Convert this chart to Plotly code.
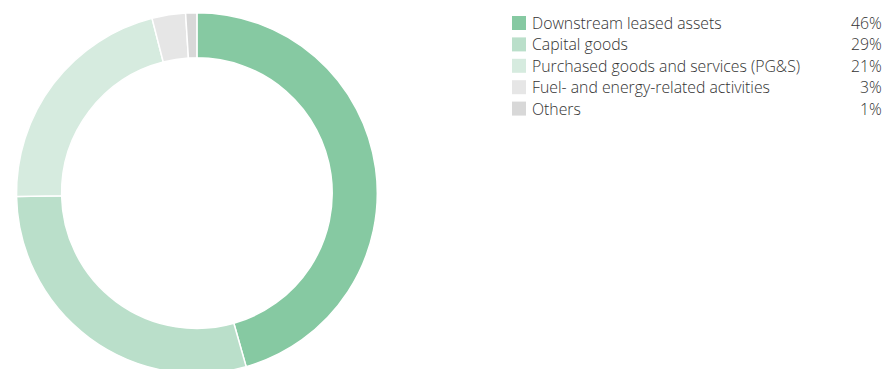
import plotly.graph_objects as go

categories = ["Downstream leased assets", "Capital goods", "Purchased goods and services (PG&S)",
              "Fuel- and energy-related activities", "Others"]
values = [45.6, 29.1, 21.3, 3.0, 1.0]
pct_labels = ["46%", "29%", "21%", "3%", "1%"]
colors = ["#86C9A2", "#BADFCA", "#D6EBDF", "#E6E6E6", "#D8D8D8"]

W, H = 888, 377
FONT = "Open Sans"
TEXT_COLOR = "#333333"

def px_x(x):
    return x / W

def px_y(y):
    return (H - y) / H

fig = go.Figure()
fig.add_trace(go.Pie(
    labels=categories, values=values, sort=False, direction="clockwise", rotation=0,
    hole=0.75, textinfo="none", showlegend=False,
    marker=dict(colors=colors, line=dict(color="white", width=1.5)),
    domain=dict(x=[px_x(16.5), px_x(377.3)], y=[px_y(373.5), px_y(12.7)]),
))

shapes = []
annotations = []
row0, step = 23.0, 21.4
for i, (cat, pct, col) in enumerate(zip(categories, pct_labels, colors)):
    yc = row0 + i * step
    shapes.append(dict(type="rect", xref="paper", yref="paper",
                       x0=px_x(512), x1=px_x(526), y0=px_y(yc + 7), y1=px_y(yc - 7),
                       fillcolor=col, line=dict(width=0)))
    annotations.append(dict(xref="paper", yref="paper", x=px_x(530), y=px_y(yc),
                            text=cat, showarrow=False, xanchor="left", yanchor="middle",
                            font=dict(family=FONT, size=15.8, color=TEXT_COLOR, weight=300)))
    annotations.append(dict(xref="paper", yref="paper", x=px_x(884), y=px_y(yc),
                            text=pct, showarrow=False, xanchor="right", yanchor="middle",
                            font=dict(family=FONT, size=15.8, color=TEXT_COLOR, weight=300)))

fig.update_layout(
    width=W, height=H, autosize=False,
    margin=dict(l=0, r=0, t=0, b=0),
    paper_bgcolor="white", plot_bgcolor="white",
    shapes=shapes, annotations=annotations,
)

fig.write_html("out.html", config={"displayModeBar": False},
               post_script="document.body.style.margin='0';document.body.style.overflow='hidden';document.documentElement.style.overflow='hidden';")
